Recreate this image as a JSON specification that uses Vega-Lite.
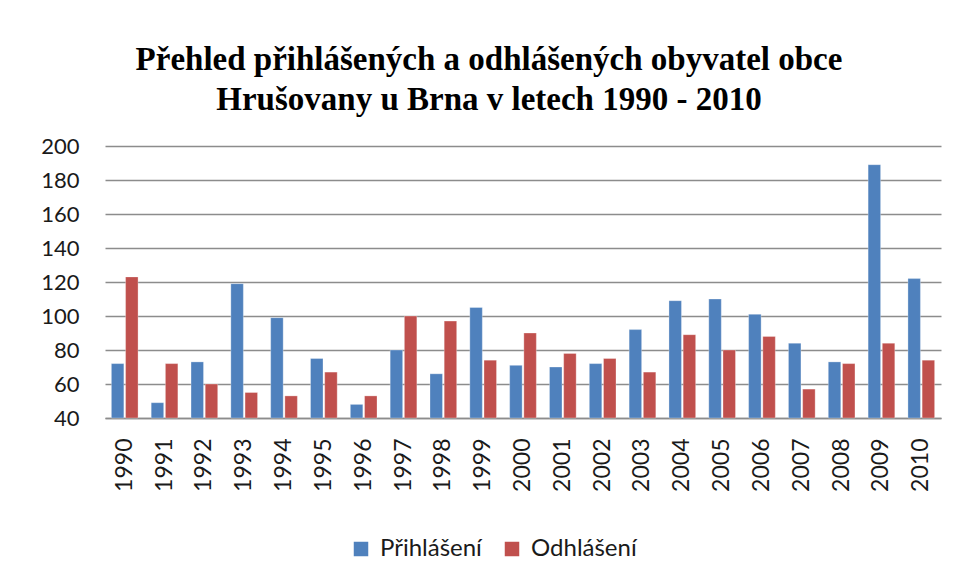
{
  "$schema": "https://vega.github.io/schema/vega-lite/v6.json",
  "width": 836,
  "height": 272,
  "autosize": "none",
  "padding": {"left": 105, "top": 146, "right": 14, "bottom": 165},
  "background": "white",
  "title": {
    "text": ["Přehled přihlášených a odhlášených obyvatel obce", "Hrušovany u Brna v letech 1990 - 2010"],
    "font": "Liberation Serif",
    "fontSize": 33,
    "fontWeight": "bold",
    "color": "#000000",
    "lineHeight": 40,
    "anchor": "middle",
    "dx": -34,
    "offset": 18
  },
  "data": {
    "values": [
      {"rok": "1990", "serie": "Přihlášení", "pocet": 72},
      {"rok": "1990", "serie": "Odhlášení", "pocet": 123},
      {"rok": "1991", "serie": "Přihlášení", "pocet": 49},
      {"rok": "1991", "serie": "Odhlášení", "pocet": 72},
      {"rok": "1992", "serie": "Přihlášení", "pocet": 73},
      {"rok": "1992", "serie": "Odhlášení", "pocet": 60},
      {"rok": "1993", "serie": "Přihlášení", "pocet": 119},
      {"rok": "1993", "serie": "Odhlášení", "pocet": 55},
      {"rok": "1994", "serie": "Přihlášení", "pocet": 99},
      {"rok": "1994", "serie": "Odhlášení", "pocet": 53},
      {"rok": "1995", "serie": "Přihlášení", "pocet": 75},
      {"rok": "1995", "serie": "Odhlášení", "pocet": 67},
      {"rok": "1996", "serie": "Přihlášení", "pocet": 48},
      {"rok": "1996", "serie": "Odhlášení", "pocet": 53},
      {"rok": "1997", "serie": "Přihlášení", "pocet": 80},
      {"rok": "1997", "serie": "Odhlášení", "pocet": 100},
      {"rok": "1998", "serie": "Přihlášení", "pocet": 66},
      {"rok": "1998", "serie": "Odhlášení", "pocet": 97},
      {"rok": "1999", "serie": "Přihlášení", "pocet": 105},
      {"rok": "1999", "serie": "Odhlášení", "pocet": 74},
      {"rok": "2000", "serie": "Přihlášení", "pocet": 71},
      {"rok": "2000", "serie": "Odhlášení", "pocet": 90},
      {"rok": "2001", "serie": "Přihlášení", "pocet": 70},
      {"rok": "2001", "serie": "Odhlášení", "pocet": 78},
      {"rok": "2002", "serie": "Přihlášení", "pocet": 72},
      {"rok": "2002", "serie": "Odhlášení", "pocet": 75},
      {"rok": "2003", "serie": "Přihlášení", "pocet": 92},
      {"rok": "2003", "serie": "Odhlášení", "pocet": 67},
      {"rok": "2004", "serie": "Přihlášení", "pocet": 109},
      {"rok": "2004", "serie": "Odhlášení", "pocet": 89},
      {"rok": "2005", "serie": "Přihlášení", "pocet": 110},
      {"rok": "2005", "serie": "Odhlášení", "pocet": 80},
      {"rok": "2006", "serie": "Přihlášení", "pocet": 101},
      {"rok": "2006", "serie": "Odhlášení", "pocet": 88},
      {"rok": "2007", "serie": "Přihlášení", "pocet": 84},
      {"rok": "2007", "serie": "Odhlášení", "pocet": 57},
      {"rok": "2008", "serie": "Přihlášení", "pocet": 73},
      {"rok": "2008", "serie": "Odhlášení", "pocet": 72},
      {"rok": "2009", "serie": "Přihlášení", "pocet": 189},
      {"rok": "2009", "serie": "Odhlášení", "pocet": 84},
      {"rok": "2010", "serie": "Přihlášení", "pocet": 122},
      {"rok": "2010", "serie": "Odhlášení", "pocet": 74}
    ]
  },
  "mark": {"type": "bar", "stroke": "white", "strokeWidth": 0.6, "strokeOpacity": 0.5},
  "encoding": {
    "x": {
      "field": "rok",
      "type": "nominal",
      "sort": null,
      "title": null,
      "scale": {"paddingInner": 0.33, "paddingOuter": 0.16},
      "axis": {
        "labelAngle": -90,
        "labelFont": "Lato",
        "labelFontSize": 23,
        "labelColor": "#1a1a1a",
        "labelPadding": 20,
        "ticks": false,
        "domainColor": "#8c8c8c",
        "domainWidth": 1.5,
        "grid": false
      }
    },
    "xOffset": {"field": "serie", "type": "nominal", "sort": ["Přihlášení", "Odhlášení"], "scale": {"paddingInner": 0.12}},
    "y": {
      "field": "pocet",
      "type": "quantitative",
      "title": null,
      "scale": {"domain": [40, 200], "zero": false, "nice": false},
      "axis": {
        "values": [40, 60, 80, 100, 120, 140, 160, 180, 200],
        "labelFont": "Lato",
        "labelFontSize": 22,
        "labelColor": "#1a1a1a",
        "labelPadding": 26,
        "ticks": false,
        "domain": false,
        "gridColor": "#8c8c8c",
        "gridWidth": 1.5
      }
    },
    "y2": {"datum": 40},
    "color": {
      "field": "serie",
      "type": "nominal",
      "sort": ["Přihlášení", "Odhlášení"],
      "scale": {"domain": ["Přihlášení", "Odhlášení"], "range": ["#4F81BD", "#C0504D"]},
      "legend": {
        "title": null,
        "orient": "none",
        "legendX": 244,
        "legendY": 391,
        "direction": "horizontal",
        "symbolType": "square",
        "symbolSize": 210,
        "symbolStrokeWidth": 0,
        "labelFont": "Lato",
        "labelFontSize": 24,
        "labelColor": "#1a1a1a",
        "columnPadding": 18,
        "labelOffset": 7
      }
    }
  },
  "config": {"view": {"stroke": null}}
}
